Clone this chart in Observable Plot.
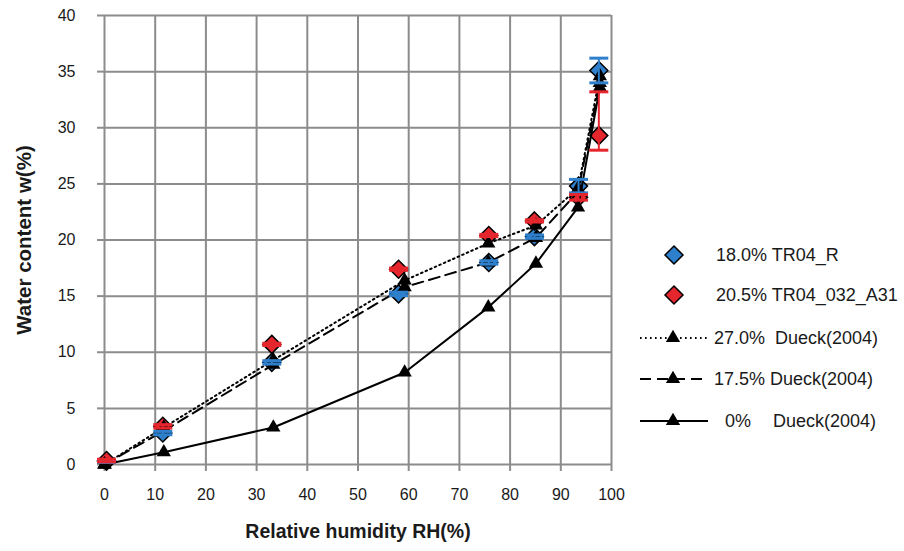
<!DOCTYPE html>
<html>
<head>
<meta charset="utf-8">
<script src="https://cdn.jsdelivr.net/npm/d3@7"></script>
<script src="https://cdn.jsdelivr.net/npm/@observablehq/plot@0.6"></script>
<style>
  body { margin: 0; background: #fff; }
  #chart { width: 904px; height: 551px; }
  #chart svg { font-family: "Liberation Sans", Arial, sans-serif; }
</style>
</head>
<body>
<div id="chart"></div>
<script>
// Relative humidity of the salt solutions (%)
const sampleRH = [0.4, 11.5, 33, 58, 75.8, 84.8, 93.5, 97.5];
// Measured water content w(%) with error bounds
const tr04R = [0.3, 2.8, 9.1, 15.2, 18.0, 20.3, 24.8, 35.1];
const tr04RErrPlus = [0.12, 0.15, 0.15, 0.15, 0.15, 0.15, 0.6, 1.1];
const tr04RErrMinus = [0.12, 0.15, 0.15, 0.15, 0.15, 0.15, 0.6, 1.1];
const tr04A31 = [0.35, 3.4, 10.7, 17.4, 20.4, 21.7, 23.8, 29.3];
const tr04A31ErrPlus = [0.12, 0.15, 0.1, 0.1, 0.1, 0.1, 0.25, 3.9];
const tr04A31ErrMinus = [0.12, 0.15, 0.1, 0.1, 0.1, 0.1, 0.25, 1.3];

// Sorption isotherms after Dueck (2004)
const dueckRH = [0, 11.7, 33.3, 59.2, 75.7, 85.1, 93.4, 97.7];
const dueck27 = [0, 3.3, 9.3, 16.4, 19.7, 21.3, 24.6, 34.6];
const dueck175 = [0, 3.0, 8.9, 15.8, 18.0, 20.2, 24.3, 34.0];
const dueck0 = [0, 1.1, 3.3, 8.2, 14.0, 17.9, 22.9, 33.6];

const xTicks = [0, 10, 20, 30, 40, 50, 60, 70, 80, 90, 100];
const yTicks = [0, 5, 10, 15, 20, 25, 30, 35, 40];

const seriesNames = ["18.0% TR04_R", "20.5% TR04_032_A31", "27.0%  Dueck(2004)", "17.5% Dueck(2004)", "0%"];

const blue = "#2f80cc";
const red = "#e5262d";
const gridColor = "#8c8c8c";
const dotted = "1.6,3.4";
const dashed = "11,6";

const measured = (ys, plus, minus) => sampleRH.map((x, i) => ({x, y: ys[i], hi: ys[i] + plus[i], lo: ys[i] - minus[i]}));
const isotherm = (ys) => dueckRH.map((x, i) => ({x, y: ys[i]}));

const blueRows = measured(tr04R, tr04RErrPlus, tr04RErrMinus);
const redRows = measured(tr04A31, tr04A31ErrPlus, tr04A31ErrMinus);
const d27 = isotherm(dueck27);
const d175 = isotherm(dueck175);
const d0 = isotherm(dueck0);

// Horizontal bar symbol for error-bar caps; r is the half width
const capSymbol = {
  draw(ctx, size) {
    const h = Math.sqrt(size / Math.PI);
    ctx.moveTo(-h, 0);
    ctx.lineTo(h, 0);
  }
};

const errorBars = (rows, color) => [
  Plot.ruleX(rows, {x: "x", y1: "lo", y2: "hi", stroke: color, strokeWidth: 2}),
  Plot.dot(rows, {x: "x", y: "hi", symbol: capSymbol, r: 9.5, stroke: color, strokeWidth: 3, fill: "none"}),
  Plot.dot(rows, {x: "x", y: "lo", symbol: capSymbol, r: 9.5, stroke: color, strokeWidth: 3, fill: "none"})
];

const isoLine = (rows, dash) => [
  Plot.line(rows, {x: "x", y: "y", stroke: "black", strokeWidth: 2, strokeDasharray: dash}),
  Plot.dot(rows, {x: "x", y: "y", symbol: "triangle", r: 5.3, fill: "black", stroke: "none"})
];

const chart = Plot.plot({
  width: 904,
  height: 551,
  marginLeft: 104,
  marginRight: 293,
  marginTop: 15,
  marginBottom: 87,
  x: {domain: [0, 100]},
  y: {domain: [0, 40]},
  marks: [
    Plot.gridX(xTicks, {stroke: gridColor, strokeOpacity: 1, strokeWidth: 2}),
    Plot.gridY(yTicks, {stroke: gridColor, strokeOpacity: 1, strokeWidth: 2}),
    Plot.axisX({ticks: xTicks, tickSize: 7, tickPadding: 17, fontSize: 16, stroke: gridColor, strokeWidth: 2, fill: "#1a1a1a", label: null}),
    Plot.axisY({ticks: yTicks, tickSize: 7, tickPadding: 22, fontSize: 16, stroke: gridColor, strokeWidth: 2, fill: "#1a1a1a", label: null}),
    Plot.dot(blueRows, {x: "x", y: "y", symbol: "diamond2", r: 8.1, fill: blue, stroke: "black", strokeWidth: 1.5}),
    Plot.dot(redRows, {x: "x", y: "y", symbol: "diamond2", r: 8.1, fill: red, stroke: "black", strokeWidth: 1.5}),
    ...isoLine(d27, dotted),
    ...isoLine(d175, dashed),
    ...isoLine(d0, null),
    ...errorBars(blueRows, blue),
    ...errorBars(redRows, red)
  ]
});

document.getElementById("chart").appendChild(chart);

const svg = d3.select(chart);
const font = '"Liberation Sans", Arial, sans-serif';

// Axis titles
svg.append("text")
  .attr("x", 358).attr("y", 533)
  .attr("text-anchor", "middle").attr("dominant-baseline", "middle")
  .attr("font-family", font).attr("font-size", 19.5).attr("font-weight", "bold").attr("fill", "#1a1a1a")
  .text("Relative humidity RH(%)");
svg.append("text")
  .attr("transform", "translate(26,240) rotate(-90)")
  .attr("text-anchor", "middle").attr("dominant-baseline", "middle")
  .attr("font-family", font).attr("font-size", 20.5).attr("font-weight", "bold").attr("fill", "#1a1a1a")
  .text("Water content w(%)");

// Legend
const legend = svg.append("g")
  .attr("font-family", font).attr("font-size", 18).attr("fill", "#1a1a1a")
  .attr("text-anchor", "start");
const diamondPath = d3.symbol(d3.symbolDiamond2, Math.PI * 8.1 * 8.1)();
const trianglePath = d3.symbol(d3.symbolTriangle, Math.PI * 5.3 * 5.3)();
const label = (x, y, s) => legend.append("text")
  .attr("x", x).attr("y", y).attr("dominant-baseline", "middle")
  .attr("text-anchor", "start").style("white-space", "pre").text(s);

[[blue, 255], [red, 295]].forEach(([c, y], i) => {
  legend.append("path").attr("d", diamondPath).attr("transform", `translate(674,${y})`)
    .attr("fill", c).attr("stroke", "black").attr("stroke-width", 1.5);
  label(716, y + 1, seriesNames[i]);
});

[[dotted, 338], [dashed, 379], [null, 421]].forEach(([dash, y]) => {
  legend.append("line").attr("x1", 640).attr("x2", 708).attr("y1", y).attr("y2", y)
    .attr("stroke", "black").attr("stroke-width", 2).attr("stroke-dasharray", dash);
  legend.append("path").attr("d", trianglePath).attr("transform", `translate(673,${y})`).attr("fill", "black");
});
label(714, 339, seriesNames[2]);
label(714, 380, seriesNames[3]);
label(725, 422, seriesNames[4]);
label(773, 422, "Dueck(2004)");
</script>
</body>
</html>
